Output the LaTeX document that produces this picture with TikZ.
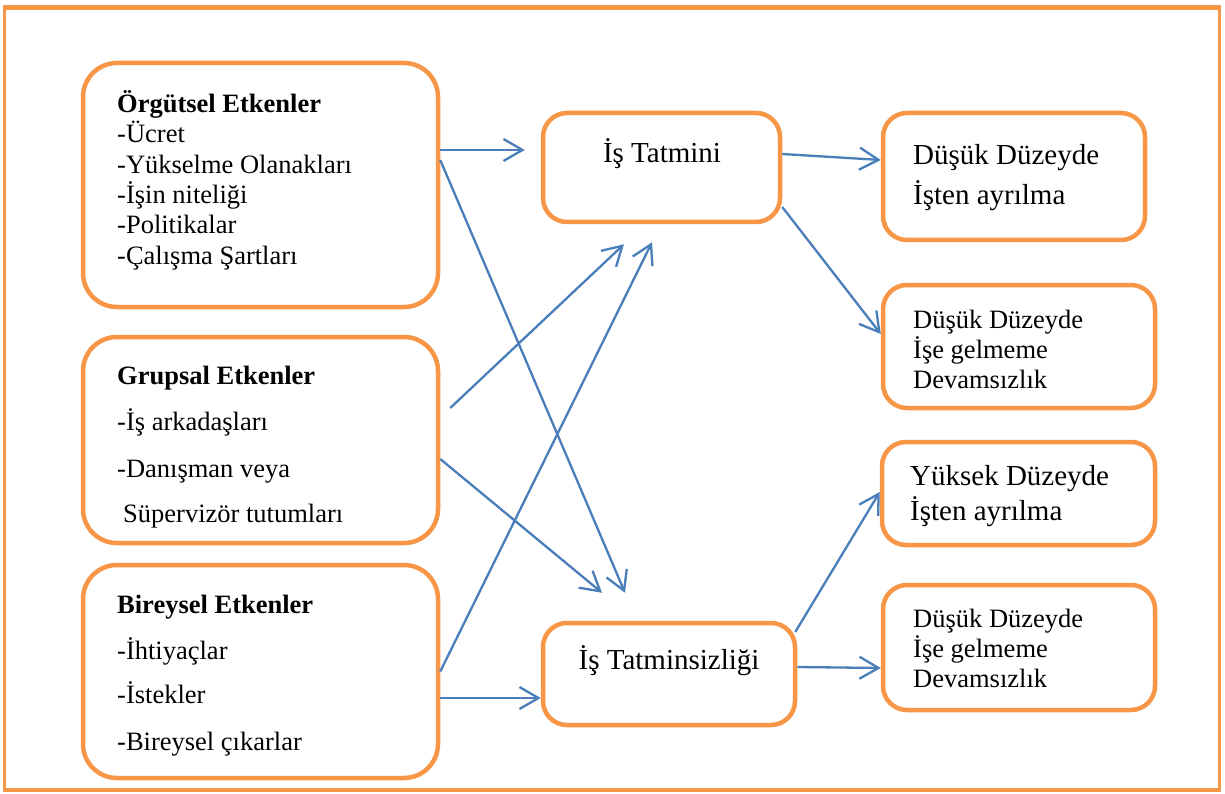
\documentclass[tikz,border=0pt]{standalone}
\usepackage{fontspec}
\setmainfont{Liberation Serif}
\usetikzlibrary{arrows.meta}
\definecolor{orng}{HTML}{F79646}
\definecolor{blu}{HTML}{4A7EBB}
\begin{document}
\begin{tikzpicture}[x=1pt,y=-1pt,
  bigbox/.style={draw=orng, line width=4.5pt, rounded corners=34pt, fill=white, inner sep=0pt},
  smallbox/.style={draw=orng, line width=4.5pt, rounded corners=24pt, fill=white, inner sep=0pt},
  txtA/.style={anchor=base west, inner sep=0pt, font=\fontsize{26.5}{30}\selectfont},
  txtB/.style={anchor=base west, inner sep=0pt, font=\fontsize{29}{34}\selectfont},
  txtC/.style={anchor=base, inner sep=0pt, font=\fontsize{29}{34}\selectfont},
  arr/.style={draw=blu, line width=2.3pt, -{Straight Barb[length=19pt,width=22pt,line width=2.3pt]}}]
\useasboundingbox (0,0) rectangle (1225,794);
\fill[white] (0,0) rectangle (1225,794);
% outer frame
\draw[orng, line width=3.5pt] (4.5,8) rectangle (1219.5,790);
\draw[orng, line width=5pt] (3,7.5) -- (1221,7.5);
% boxes
\node[bigbox, minimum width=355pt, minimum height=244pt] (org) at (260.5,185) {};
\node[bigbox, minimum width=355pt, minimum height=206pt] (grp) at (260.5,440) {};
\node[bigbox, minimum width=355pt, minimum height=213pt] (bir) at (260.5,671.5) {};
\node[smallbox, minimum width=237pt, minimum height=109pt] (tat) at (661.5,167.5) {};
\node[smallbox, minimum width=252pt, minimum height=102pt] (tsz) at (669,674) {};
\node[smallbox, minimum width=262pt, minimum height=127pt] (o1) at (1014,176.5) {};
\node[smallbox, minimum width=272pt, minimum height=123pt] (o2) at (1019,346.5) {};
\node[smallbox, minimum width=273pt, minimum height=103pt] (o3) at (1018.5,493.5) {};
\node[smallbox, minimum width=272pt, minimum height=125pt] (o4) at (1019,647.5) {};
% texts left
\node[txtA] (org0) at (117,113) {\textbf{Örgütsel Etkenler}};
\node[txtA] (org1) at (117,143) {-Ücret};
\node[txtA] (org2) at (117,173.5) {-Yükselme Olanakları};
\node[txtA] (org3) at (117,204) {-İşin niteliği};
\node[txtA] (org4) at (117,234) {-Politikalar};
\node[txtA] (org5) at (117,264) {-Çalışma Şartları};
\node[txtA] (grp0) at (117,384) {\textbf{Grupsal Etkenler}};
\node[txtA] (grp1) at (117,430) {-İş arkadaşları};
\node[txtA] (grp2) at (117,477) {-Danışman veya};
\node[txtA] (grp3) at (123,522) {Süpervizör tutumları};
\node[txtA] (bir0) at (117,613) {\textbf{Bireysel Etkenler}};
\node[txtA] (bir1) at (117,659) {-İhtiyaçlar};
\node[txtA] (bir2) at (117,703) {-İstekler};
\node[txtA] (bir3) at (117,750) {-Bireysel çıkarlar};
% middle texts
\node[txtC] (tatT) at (662,163) {İş Tatmini};
\node[txtC] (tszT) at (669,669) {İş Tatminsizliği};
% right texts
\node[txtB] (o1a) at (913,165) {Düşük Düzeyde};
\node[txtB] (o1b) at (913,205) {İşten ayrılma};
\node[txtA] (o2a) at (913,328) {Düşük Düzeyde};
\node[txtA] (o2b) at (913,358) {İşe gelmeme};
\node[txtA] (o2c) at (913,388) {Devamsızlık};
\node[txtB] (o3a) at (910,485) {Yüksek Düzeyde};
\node[txtB] (o3b) at (910,520) {İşten ayrılma};
\node[txtA] (o4a) at (913,627) {Düşük Düzeyde};
\node[txtA] (o4b) at (913,657) {İşe gelmeme};
\node[txtA] (o4c) at (913,687) {Devamsızlık};
% arrows
\draw[arr] ([yshift=35pt]org.east) -- ([xshift=-16pt,yshift=17.5pt]tat.west);
\draw[arr] ([yshift=25pt]org.east) -- ([xshift=-44pt,yshift=28pt]tsz.north);
\draw[arr] ([xshift=10pt,yshift=32pt]grp.east) -- ([xshift=-37.5pt,yshift=-20pt]tat.south);
\draw[arr] ([yshift=-19pt]grp.east) -- ([xshift=-67pt,yshift=28pt]tsz.north);
\draw[arr] (bir.east) -- ([xshift=-9.5pt,yshift=-18pt]tat.south);
\draw[arr] ([yshift=-26.5pt]bir.east) -- ([yshift=-24pt]tsz.west);
\draw[arr] ([yshift=13.5pt]tat.east) -- ([yshift=16.5pt]o1.west);
\draw[arr] ([yshift=-39.5pt]tat.east) -- ([yshift=12.5pt]o2.west);
\draw[arr] ([xshift=-2pt,yshift=42pt]tsz.east) -- ([yshift=1.5pt]o3.west);
\draw[arr] ([yshift=7pt]tsz.east) -- ([yshift=-20.5pt]o4.west);
\end{tikzpicture}
\end{document}
